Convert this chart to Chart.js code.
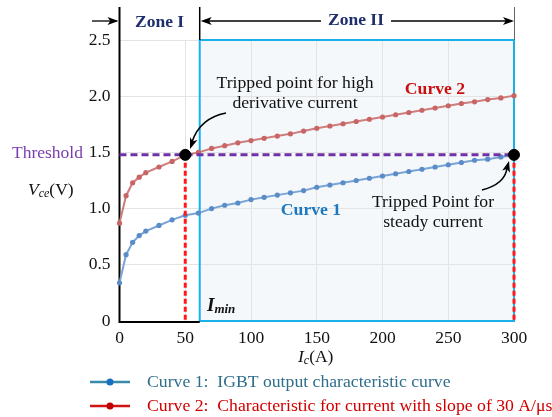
<!DOCTYPE html>
<html>
<head>
<meta charset="utf-8">
<script src="https://cdn.jsdelivr.net/npm/chart.js@4.4.0/dist/chart.umd.min.js"></script>
<style>
html,body{margin:0;padding:0;background:#fff;}
canvas{display:block;}
</style>
</head>
<body>
<canvas id="c" width="552" height="417"></canvas>
<script>
const currents = [0,5,10,15,20,30,40,50,60,70,80,90,100,110,120,130,140,150,160,170,180,190,200,210,220,230,240,250,260,270,280,290,300];
const curve1 = [0.34,0.59,0.70,0.76,0.80,0.85,0.90,0.94,0.96,1.00,1.03,1.05,1.08,1.10,1.12,1.14,1.16,1.19,1.21,1.23,1.25,1.27,1.29,1.31,1.33,1.35,1.37,1.39,1.41,1.43,1.44,1.46,1.475];
const curve2 = [0.87,1.115,1.23,1.28,1.32,1.37,1.42,1.475,1.50,1.535,1.56,1.585,1.605,1.625,1.645,1.665,1.69,1.715,1.735,1.755,1.775,1.795,1.815,1.835,1.855,1.875,1.895,1.915,1.935,1.95,1.97,1.985,2.005];
const thresholdValue = 1.478;
const tripCurrents = [50, 300];
const iMin = 61;
const xTicks = [0,50,100,150,200,250,300];
const yTicks = [0,0.5,1.0,1.5,2.0,2.5];
const legendLabels = ["Curve 1:  IGBT output characteristic curve", "Curve 2:  Characteristic for current with slope of 30 A/\u03bcs"];

const SERIF = "'Liberation Serif','Times New Roman',serif";

function pts(xs, ys){ return xs.map((x,i)=>({x:x,y:ys[i]})); }

function arrowHead(ctx, x, y, ang, len, w){
  ctx.save();
  ctx.translate(x,y); ctx.rotate(ang);
  ctx.beginPath();
  ctx.moveTo(0,0); ctx.lineTo(-len, -w); ctx.lineTo(-len*0.75,0); ctx.lineTo(-len, w); ctx.closePath();
  ctx.fill();
  ctx.restore();
}

const decor = {
  id:'decor',
  beforeDraw(chart){
    const ctx = chart.ctx, xs = chart.scales.x, ys = chart.scales.y;
    ctx.save();
    ctx.fillStyle = '#f4f8fb';
    const x1 = xs.getPixelForValue(iMin), x2 = xs.getPixelForValue(300);
    const y1 = ys.getPixelForValue(2.5), y2 = ys.getPixelForValue(0);
    ctx.fillRect(x1, y1, x2-x1, y2-y1);
    ctx.restore();
  },
  beforeDatasetsDraw(chart){
    const ctx = chart.ctx, xs = chart.scales.x, ys = chart.scales.y;
    const x0 = xs.getPixelForValue(0), xm = xs.getPixelForValue(iMin), xe = xs.getPixelForValue(300);
    const yt = ys.getPixelForValue(2.5), yb = ys.getPixelForValue(0);
    ctx.save();
    ctx.strokeStyle = '#1ab0ea'; ctx.lineWidth = 2;
    ctx.strokeRect(xm, yt, xe-xm, yb-yt);
    ctx.strokeStyle = '#000'; ctx.lineWidth = 2;
    ctx.beginPath(); ctx.moveTo(x0, 7); ctx.lineTo(x0, yb+1); ctx.lineTo(xm, yb+1); ctx.stroke();
    ctx.lineWidth = 1.5;
    ctx.beginPath(); ctx.moveTo(xm, 7); ctx.lineTo(xm, yt); ctx.stroke();
    ctx.strokeStyle = '#666'; ctx.lineWidth = 1;
    ctx.beginPath(); ctx.moveTo(xe+0.5, 7); ctx.lineTo(xe+0.5, yt); ctx.stroke();
    const ay = 21;
    ctx.strokeStyle = '#000'; ctx.fillStyle = '#000'; ctx.lineWidth = 1.3;
    ctx.beginPath(); ctx.moveTo(92, ay); ctx.lineTo(x0-3, ay); ctx.stroke();
    arrowHead(ctx, x0-1, ay, 0, 11, 4);
    ctx.beginPath(); ctx.moveTo(xm+4, ay); ctx.lineTo(321, ay); ctx.stroke();
    arrowHead(ctx, xm+1, ay, Math.PI, 11, 4);
    ctx.beginPath(); ctx.moveTo(391, ay); ctx.lineTo(xe-4, ay); ctx.stroke();
    arrowHead(ctx, xe, ay, 0, 11, 4);
    ctx.font = 'bold 17.5px ' + SERIF; ctx.fillStyle = '#1f2f6e';
    ctx.textAlign = 'center'; ctx.textBaseline = 'middle';
    ctx.fillText('Zone I', (x0+xm)/2, 22);
    ctx.fillText('Zone II', 356, 20);
    ctx.restore();
  },
  afterDraw(chart){
    const ctx = chart.ctx;
    ctx.save();
    ctx.textBaseline = 'middle';
    ctx.font = '17.5px ' + SERIF; ctx.fillStyle = '#7a3db0'; ctx.textAlign = 'left';
    ctx.fillText('Threshold', 12, 153);
    ctx.fillStyle = '#111';
    ctx.font = 'italic 17.5px ' + SERIF;
    let x = 28; const vy = 190;
    ctx.fillText('V', x, vy); x += ctx.measureText('V').width;
    ctx.font = 'italic 12px ' + SERIF; ctx.fillText('ce', x, vy+4); x += ctx.measureText('ce').width;
    ctx.font = '17.5px ' + SERIF; ctx.fillText('(V)', x, vy);
    x = 298; const iy = 357;
    ctx.font = 'italic 17.5px ' + SERIF; ctx.fillText('I', x, iy); x += ctx.measureText('I').width;
    ctx.font = 'italic 12px ' + SERIF; ctx.fillText('c', x, iy+4); x += ctx.measureText('c').width;
    ctx.font = '17.5px ' + SERIF; ctx.fillText('(A)', x, iy);
    x = 207; const my = 306;
    ctx.font = 'bold italic 19px ' + SERIF; ctx.fillText('I', x, my); x += ctx.measureText('I').width;
    ctx.font = 'bold italic 13px ' + SERIF; ctx.fillText('min', x, my+4);
    ctx.textAlign = 'center';
    ctx.font = '17.7px ' + SERIF; ctx.fillStyle = '#111';
    ctx.fillText('Tripped point for high', 295, 83);
    ctx.fillText('derivative current', 295, 103);
    ctx.fillText('Tripped Point for', 433, 202);
    ctx.fillText('steady current', 433, 222);
    ctx.font = 'bold 17.7px ' + SERIF;
    ctx.fillStyle = '#cc1010'; ctx.fillText('Curve 2', 435, 89);
    ctx.fillStyle = '#1c78c0'; ctx.fillText('Curve 1', 311, 210);
    ctx.strokeStyle = '#000'; ctx.fillStyle = '#000'; ctx.lineWidth = 1.6;
    ctx.beginPath(); ctx.moveTo(226, 113); ctx.quadraticCurveTo(200, 118, 192, 142); ctx.stroke();
    arrowHead(ctx, 190, 149, Math.atan2(149-138, 190-194), 11, 4);
    ctx.beginPath(); ctx.moveTo(482, 190); ctx.quadraticCurveTo(505, 184, 507, 168); ctx.stroke();
    arrowHead(ctx, 509, 161, Math.atan2(161-172, 509-506), 11, 4);
    const items = [
      {y:382, line:'#3a8aaa', dot:'#1a70c0', text:'#2f6e8c', label:legendLabels[0]},
      {y:406, line:'#d01515', dot:'#c00000', text:'#d00000', label:legendLabels[1]}
    ];
    ctx.textAlign = 'left'; ctx.font = '17.7px ' + SERIF;
    items.forEach(it=>{
      ctx.strokeStyle = it.line; ctx.lineWidth = 2.5;
      ctx.beginPath(); ctx.moveTo(90, it.y); ctx.lineTo(130, it.y); ctx.stroke();
      ctx.fillStyle = it.dot; ctx.beginPath(); ctx.arc(110, it.y, 3.5, 0, Math.PI*2); ctx.fill();
      ctx.fillStyle = it.text; ctx.fillText(it.label, 147, it.y);
    });
    ctx.restore();
  }
};

new Chart(document.getElementById('c'), {
  type: 'line',
  data: {
    datasets: [
      {label:'trip', data: pts(tripCurrents, tripCurrents.map(()=>thresholdValue)), showLine:false,
       pointRadius:5.5, pointBackgroundColor:'#000', pointBorderColor:'#000', order:0, clip:false},
      {label:'v1', data: [{x:tripCurrents[0], y:thresholdValue},{x:tripCurrents[0], y:0}], borderColor:'#ff1a1a',
       borderWidth:3, borderDash:[5,3], pointRadius:0, order:1, clip:false},
      {label:'v2', data: [{x:tripCurrents[1], y:thresholdValue},{x:tripCurrents[1], y:0}], borderColor:'#ff1a1a',
       borderWidth:3, borderDash:[5,3], pointRadius:0, order:1, clip:false},
      {label:'threshold', data: [{x:0,y:thresholdValue},{x:300,y:thresholdValue}], borderColor:'#7030a8',
       borderWidth:3, borderDash:[7,4], pointRadius:0, order:2, clip:false},
      {label:'Curve 1', data: pts(currents, curve1), borderColor:'#7aa3d6', borderWidth:2,
       pointRadius:2.6, pointBackgroundColor:'#5a8cc8', pointBorderWidth:0, order:3, clip:false, tension:0},
      {label:'Curve 2', data: pts(currents, curve2), borderColor:'#cf7d7d', borderWidth:2,
       pointRadius:2.6, pointBackgroundColor:'#c86666', pointBorderWidth:0, order:4, clip:false, tension:0}
    ]
  },
  options: {
    responsive:false, animation:false,
    layout:{padding:{top:40, right:38, left:0, bottom:0}},
    plugins:{legend:{display:false}, tooltip:{enabled:false}},
    scales:{
      x:{type:'linear', min:0, max:300,
         afterBuildTicks(s){ s.ticks = xTicks.map(v=>({value:v})); },
         afterFit(s){ s.height = 96; },
         grid:{color:'#e4e4e4', lineWidth:1, drawTicks:false},
         border:{display:false},
         ticks:{padding:7, color:'#111', font:{family:SERIF, size:17.5}, callback:v=>String(v)}},
      y:{type:'linear', min:0, max:2.5,
         afterBuildTicks(s){ s.ticks = yTicks.map(v=>({value:v})); },
         afterFit(s){ s.width = 119.5; },
         grid:{color:'#e4e4e4', lineWidth:1, drawTicks:false},
         border:{display:false},
         ticks:{padding:9, color:'#111', font:{family:SERIF, size:17.5}, callback:v=>v===0?'0':v.toFixed(1)}}
    }
  },
  plugins:[decor]
});
</script>
</body>
</html>
